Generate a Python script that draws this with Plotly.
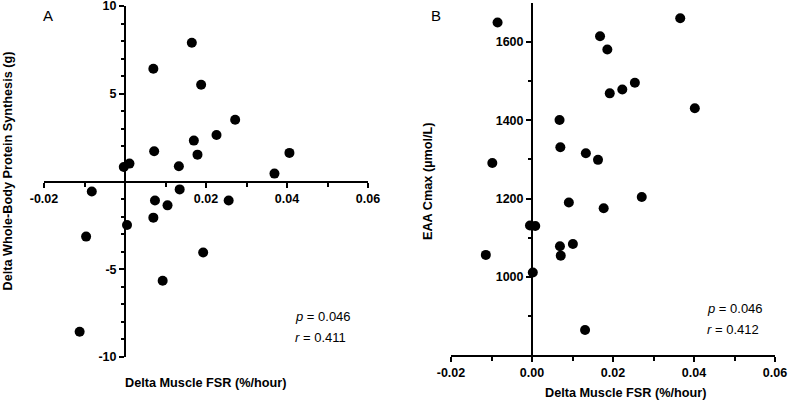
import plotly.graph_objects as go

# Panel A: Delta Muscle FSR vs Delta Whole-Body Protein Synthesis
a_fsr = [0.0165, 0.0070, 0.0188, 0.0272, 0.0226, 0.0170, 0.0072, 0.0179, 0.0406, 0.0011,
         -0.0003, 0.0133, 0.0369, -0.0082, 0.0135, 0.0074, 0.0256, 0.0105, 0.0070, 0.0005,
         -0.0096, 0.0193, 0.0093, -0.0112]
a_wbps = [7.91, 6.42, 5.51, 3.52, 2.65, 2.33, 1.72, 1.53, 1.63, 1.02,
          0.83, 0.87, 0.45, -0.57, -0.45, -1.08, -1.08, -1.36, -2.06, -2.48,
          -3.14, -4.05, -5.66, -8.56]

# Panel B: Delta Muscle FSR vs EAA Cmax
b_fsr = [0.0366, -0.0085, 0.0168, 0.0186, 0.0254, 0.0223, 0.0192, 0.0402, 0.0068, 0.0070,
         0.0133, 0.0163, -0.0098, 0.0271, 0.0091, 0.0177, -0.0005, 0.0008, 0.0101, 0.0069,
         0.0071, -0.0114, 0.0002, 0.0131]
b_cmax = [1661, 1650, 1615, 1581, 1496, 1479, 1469, 1431, 1401, 1331,
          1316, 1299, 1291, 1204, 1190, 1175, 1131, 1130, 1084, 1078,
          1054, 1056, 1011, 864]

a_xticks = [-0.02, 0.02, 0.04, 0.06]
a_xlabels = ["-0.02", "0.02", "0.04", "0.06"]
b_xticks = [-0.02, 0.0, 0.02, 0.04, 0.06]
b_xlabels = ["-0.02", "0.00", "0.02", "0.04", "0.06"]
x_minor = [-0.01, 0.01, 0.03, 0.05]
a_yticks = [-10, -5, 5, 10]
a_ylabels = ["-10", "-5", "5", "10"]
a_yminor = [v for v in range(-9, 10) if v % 5 != 0]
b_yticks = [1000, 1200, 1400, 1600]
b_ylabels = ["1000", "1200", "1400", "1600"]
b_yminor = [900, 1100, 1300, 1500]

W, H = 789, 401
def px(x):
    return x / W
def py(y):
    return 1 - y / H

def bold(labels):
    return ["<b>%s</b>" % s for s in labels]

FONT = "Liberation Sans"
tickfont = dict(family=FONT, size=12.5, color="black")
axis_common = dict(showgrid=False, zeroline=False, showline=True, linecolor="black",
                   linewidth=2, ticks="outside", tickcolor="black", tickwidth=2,
                   ticklen=5, tickfont=tickfont, automargin=False,
                   ticklabeloverflow="allow", tickmode="array")

fig = go.Figure()
fig.add_trace(go.Scatter(x=a_fsr, y=a_wbps, mode="markers", xaxis="x", yaxis="y",
                         marker=dict(color="black", size=10), showlegend=False,
                         cliponaxis=False))
fig.add_trace(go.Scatter(x=b_fsr, y=b_cmax, mode="markers", xaxis="x2", yaxis="y2",
                         marker=dict(color="black", size=10), showlegend=False,
                         cliponaxis=False))

fig.update_layout(
    width=W, height=H, margin=dict(l=0, r=0, t=0, b=0, pad=0, autoexpand=False),
    plot_bgcolor="white", paper_bgcolor="white",
    xaxis=dict(domain=[px(44), px(368)], range=[-0.02, 0.06], anchor="free",
               position=py(181.5), tickvals=a_xticks, ticktext=bold(a_xlabels),
               minor=dict(tickvals=x_minor, ticks="outside", ticklen=4,
                          tickcolor="black", tickwidth=2),
               **axis_common),
    yaxis=dict(domain=[py(357), py(6)], range=[-10, 10], anchor="free",
               position=px(125), tickvals=a_yticks, ticktext=bold(a_ylabels),
               minor=dict(tickvals=a_yminor, ticks="outside", ticklen=3,
                          tickcolor="black", tickwidth=2),
               **axis_common),
    xaxis2=dict(domain=[px(451), px(775)], range=[-0.02, 0.06], anchor="y2",
                tickvals=b_xticks, ticktext=bold(b_xlabels),
                minor=dict(tickvals=x_minor, ticks="outside", ticklen=4,
                           tickcolor="black", tickwidth=2),
                **axis_common),
    yaxis2=dict(domain=[py(355), py(3)], range=[800, 1700], anchor="free",
                position=px(532), tickvals=b_yticks, ticktext=bold(b_ylabels),
                minor=dict(tickvals=b_yminor, ticks="outside", ticklen=3,
                           tickcolor="black", tickwidth=2),
                **axis_common),
)

title_font = dict(family=FONT, size=12.7, color="black")
ann = [
    dict(x=px(205), y=py(383), text="<b>Delta Muscle FSR (%/hour)</b>", font=title_font),
    dict(x=px(625), y=py(393), text="<b>Delta Muscle FSR (%/hour)</b>", font=title_font),
    dict(x=px(7.5), y=py(171), text="<b>Delta Whole-Body Protein Synthesis (g)</b>", font=title_font, textangle=-90),
    dict(x=px(428), y=py(181), text="<b>EAA Cmax (µmol/L)</b>", font=title_font, textangle=-90),
    dict(x=px(48), y=py(15), text="A", font=dict(family=FONT, size=15, color="black")),
    dict(x=px(436), y=py(15), text="B", font=dict(family=FONT, size=15, color="black")),
    dict(x=px(293), y=py(316), text="<i>p</i> = 0.046", xanchor="left", font=dict(family=FONT, size=13, color="black")),
    dict(x=px(293), y=py(337), text="<i>r</i> = 0.411", xanchor="left", font=dict(family=FONT, size=13, color="black")),
    dict(x=px(705), y=py(308), text="<i>p</i> = 0.046", xanchor="left", font=dict(family=FONT, size=13, color="black")),
    dict(x=px(705), y=py(329), text="<i>r</i> = 0.412", xanchor="left", font=dict(family=FONT, size=13, color="black")),
]
for a in ann:
    a.setdefault("xanchor", "center")
    a.update(xref="paper", yref="paper", yanchor="middle", showarrow=False)
    fig.add_annotation(**a)

# remove the default page margin so the figure sits at the window's top-left corner
fig.write_html("out.html", config={"displayModeBar": False},
               post_script="document.body.style.margin='0';")
